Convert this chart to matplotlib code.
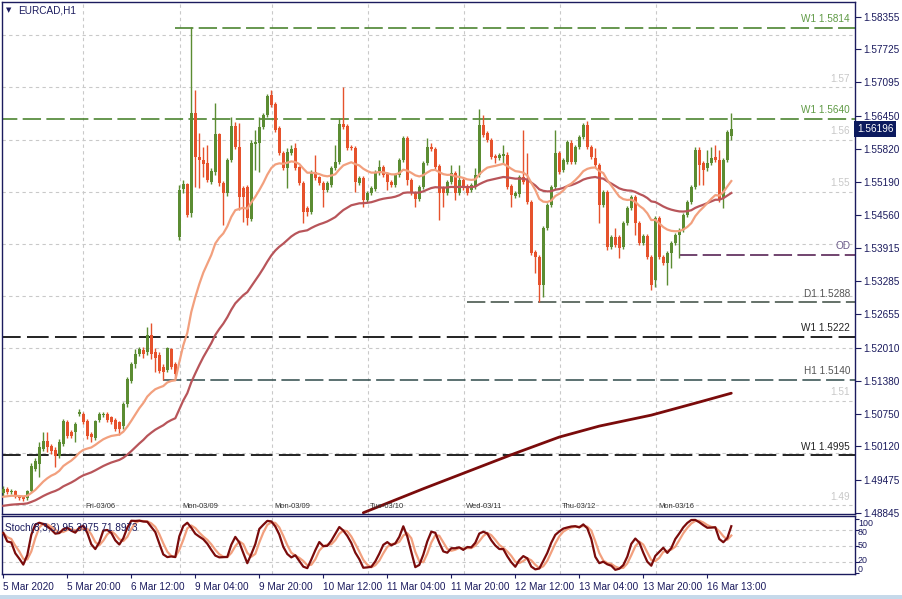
import numpy as np
import pandas as pd
import matplotlib
matplotlib.use("Agg")
import matplotlib.pyplot as plt
from matplotlib.patches import Rectangle
import matplotlib.transforms as mtransforms

plt.rcParams['font.family'] = ['Liberation Sans', 'DejaVu Sans']

# EURCAD H1 candles (bar 0 = first bar on the left)
opens = [
    1.4923, 1.4931, 1.4925, 1.4927, 1.4917, 1.4915, 1.4913, 1.4927, 1.4969, 1.4978,
    1.5008, 1.5022, 1.5013, 1.5006, 1.4993, 1.5017, 1.5059, 1.5040, 1.5040, 1.5074,
    1.5074, 1.5061, 1.5036, 1.5028, 1.5063, 1.5073, 1.5075, 1.5068, 1.5063, 1.5059,
    1.5051, 1.5093, 1.5137, 1.5169, 1.5189, 1.5196, 1.5192, 1.5226, 1.5192, 1.5188,
    1.5165, 1.5158, 1.5198, 1.5169, 1.5414, 1.5505, 1.5515, 1.5460, 1.5650, 1.5566,
    1.5561, 1.5555, 1.5518, 1.5538, 1.5610, 1.5517, 1.5498, 1.5561, 1.5626, 1.5586,
    1.5507, 1.5509, 1.5448, 1.5591, 1.5593, 1.5624, 1.5647, 1.5685, 1.5668, 1.5622,
    1.5574, 1.5545, 1.5574, 1.5584, 1.5547, 1.5517, 1.5469, 1.5461, 1.5538, 1.5528,
    1.5517, 1.5503, 1.5513, 1.5545, 1.5557, 1.5629, 1.5626, 1.5586, 1.5584, 1.5517,
    1.5526, 1.5484, 1.5498, 1.5505, 1.5536, 1.5547, 1.5534, 1.5519, 1.5513, 1.5532,
    1.5561, 1.5603, 1.5522, 1.5497, 1.5486, 1.5509, 1.5555, 1.5586, 1.5582, 1.5549,
    1.5507, 1.5497, 1.5519, 1.5536, 1.5497, 1.5522, 1.5511, 1.5503, 1.5509, 1.5532,
    1.5627, 1.5612, 1.5599, 1.5568, 1.5564, 1.5568, 1.5570, 1.5511, 1.5492, 1.5495,
    1.5528, 1.5522, 1.5480, 1.5385, 1.5374, 1.5322, 1.5431, 1.5475, 1.5509, 1.5574,
    1.5541, 1.5557, 1.5593, 1.5557, 1.5586, 1.5605, 1.5627, 1.5586, 1.5564, 1.5551,
    1.5475, 1.5499, 1.5394, 1.5413, 1.5413, 1.5394, 1.5440, 1.5469, 1.5490, 1.5440,
    1.5402, 1.5415, 1.5375, 1.5330, 1.5450, 1.5375, 1.5364, 1.5383, 1.5402, 1.5417,
    1.5427, 1.5456, 1.5480, 1.5509, 1.5580, 1.5555, 1.5545, 1.5555, 1.5566, 1.5561,
    1.5488, 1.5561, 1.5606,
]
highs = [
    1.4936, 1.4934, 1.4931, 1.4929, 1.4919, 1.4917, 1.4929, 1.4980, 1.4990, 1.5020,
    1.5039, 1.5039, 1.5017, 1.5010, 1.5026, 1.5065, 1.5063, 1.5044, 1.5059, 1.5084,
    1.5078, 1.5065, 1.5040, 1.5063, 1.5078, 1.5078, 1.5078, 1.5070, 1.5067, 1.5061,
    1.5097, 1.5145, 1.5173, 1.5198, 1.5202, 1.5202, 1.5240, 1.5249, 1.5200, 1.5192,
    1.5169, 1.5202, 1.5200, 1.5173, 1.5513, 1.5523, 1.5517, 1.5815, 1.5694, 1.5612,
    1.5586, 1.5589, 1.5545, 1.5669, 1.5612, 1.5521, 1.5564, 1.5643, 1.5633, 1.5631,
    1.5511, 1.5513, 1.5599, 1.5618, 1.5643, 1.5650, 1.5688, 1.5694, 1.5672, 1.5626,
    1.5578, 1.5584, 1.5589, 1.5593, 1.5549, 1.5521, 1.5473, 1.5542, 1.5570, 1.5530,
    1.5521, 1.5521, 1.5549, 1.5589, 1.5641, 1.5700, 1.5630, 1.5590, 1.5588, 1.5530,
    1.5530, 1.5502, 1.5511, 1.5542, 1.5561, 1.5551, 1.5538, 1.5522, 1.5536, 1.5565,
    1.5606, 1.5607, 1.5526, 1.5501, 1.5513, 1.5559, 1.5603, 1.5593, 1.5586, 1.5553,
    1.5511, 1.5523, 1.5551, 1.5540, 1.5551, 1.5526, 1.5515, 1.5517, 1.5545, 1.5658,
    1.5647, 1.5616, 1.5603, 1.5572, 1.5574, 1.5589, 1.5576, 1.5515, 1.5501, 1.5532,
    1.5618, 1.5574, 1.5484, 1.5389, 1.5378, 1.5435, 1.5479, 1.5513, 1.5618, 1.5578,
    1.5565, 1.5599, 1.5599, 1.5590, 1.5609, 1.5631, 1.5635, 1.5590, 1.5584, 1.5555,
    1.5503, 1.5503, 1.5417, 1.5431, 1.5417, 1.5444, 1.5473, 1.5494, 1.5494, 1.5444,
    1.5419, 1.5419, 1.5379, 1.5454, 1.5454, 1.5379, 1.5387, 1.5406, 1.5421, 1.5431,
    1.5460, 1.5484, 1.5513, 1.5586, 1.5586, 1.5559, 1.5580, 1.5586, 1.5589, 1.5580,
    1.5565, 1.5618, 1.5650,
]
lows = [
    1.4917, 1.4921, 1.4921, 1.4913, 1.4909, 1.4907, 1.4909, 1.4925, 1.4965, 1.4954,
    1.5004, 1.5002, 1.4998, 1.4973, 1.4989, 1.5013, 1.5029, 1.5028, 1.5020, 1.5070,
    1.5055, 1.5027, 1.5020, 1.5025, 1.5059, 1.5069, 1.5059, 1.5055, 1.5042, 1.5034,
    1.5046, 1.5088, 1.5133, 1.5163, 1.5185, 1.5182, 1.5188, 1.5180, 1.5154, 1.5152,
    1.5140, 1.5154, 1.5161, 1.5144, 1.5408, 1.5498, 1.5452, 1.5452, 1.5509, 1.5507,
    1.5528, 1.5518, 1.5515, 1.5532, 1.5511, 1.5437, 1.5492, 1.5557, 1.5582, 1.5465,
    1.5442, 1.5437, 1.5444, 1.5542, 1.5538, 1.5620, 1.5643, 1.5662, 1.5614, 1.5570,
    1.5542, 1.5507, 1.5570, 1.5542, 1.5513, 1.5440, 1.5454, 1.5457, 1.5522, 1.5513,
    1.5471, 1.5499, 1.5509, 1.5542, 1.5553, 1.5620, 1.5580, 1.5580, 1.5500, 1.5513,
    1.5471, 1.5480, 1.5494, 1.5501, 1.5532, 1.5528, 1.5503, 1.5509, 1.5509, 1.5528,
    1.5557, 1.5513, 1.5494, 1.5471, 1.5482, 1.5505, 1.5551, 1.5578, 1.5543, 1.5446,
    1.5471, 1.5493, 1.5515, 1.5484, 1.5493, 1.5503, 1.5493, 1.5499, 1.5505, 1.5528,
    1.5604, 1.5595, 1.5562, 1.5555, 1.5560, 1.5555, 1.5505, 1.5471, 1.5488, 1.5490,
    1.5515, 1.5476, 1.5379, 1.5345, 1.5288, 1.5299, 1.5427, 1.5471, 1.5505, 1.5534,
    1.5537, 1.5553, 1.5553, 1.5553, 1.5582, 1.5601, 1.5582, 1.5562, 1.5547, 1.5440,
    1.5471, 1.5388, 1.5390, 1.5394, 1.5373, 1.5390, 1.5436, 1.5465, 1.5417, 1.5398,
    1.5398, 1.5371, 1.5312, 1.5318, 1.5371, 1.5360, 1.5322, 1.5354, 1.5398, 1.5373,
    1.5423, 1.5452, 1.5476, 1.5505, 1.5513, 1.5513, 1.5540, 1.5551, 1.5557, 1.5480,
    1.5469, 1.5557, 1.5600,
]
closes = [
    1.4931, 1.4925, 1.4927, 1.4917, 1.4913, 1.4911, 1.4927, 1.4975, 1.4984, 1.5011,
    1.5022, 1.5011, 1.5004, 1.4993, 1.5020, 1.5061, 1.5032, 1.5032, 1.5055, 1.5078,
    1.5059, 1.5032, 1.5030, 1.5061, 1.5074, 1.5075, 1.5063, 1.5059, 1.5046, 1.5046,
    1.5093, 1.5141, 1.5169, 1.5189, 1.5198, 1.5189, 1.5226, 1.5189, 1.5182, 1.5156,
    1.5154, 1.5200, 1.5165, 1.5150, 1.5503, 1.5515, 1.5456, 1.5650, 1.5566, 1.5561,
    1.5553, 1.5522, 1.5540, 1.5610, 1.5517, 1.5498, 1.5561, 1.5626, 1.5586, 1.5490,
    1.5490, 1.5450, 1.5593, 1.5595, 1.5624, 1.5647, 1.5683, 1.5666, 1.5618, 1.5574,
    1.5545, 1.5576, 1.5582, 1.5545, 1.5517, 1.5461, 1.5461, 1.5538, 1.5526, 1.5517,
    1.5503, 1.5517, 1.5545, 1.5557, 1.5629, 1.5624, 1.5584, 1.5584, 1.5519, 1.5526,
    1.5484, 1.5498, 1.5507, 1.5538, 1.5547, 1.5532, 1.5519, 1.5513, 1.5532, 1.5561,
    1.5603, 1.5522, 1.5497, 1.5486, 1.5509, 1.5555, 1.5586, 1.5582, 1.5547, 1.5497,
    1.5497, 1.5519, 1.5536, 1.5497, 1.5522, 1.5507, 1.5497, 1.5513, 1.5532, 1.5627,
    1.5608, 1.5599, 1.5566, 1.5564, 1.5570, 1.5572, 1.5509, 1.5494, 1.5497, 1.5528,
    1.5519, 1.5480, 1.5383, 1.5374, 1.5322, 1.5431, 1.5475, 1.5509, 1.5574, 1.5538,
    1.5561, 1.5595, 1.5557, 1.5586, 1.5605, 1.5627, 1.5586, 1.5566, 1.5551, 1.5475,
    1.5499, 1.5394, 1.5413, 1.5398, 1.5392, 1.5440, 1.5469, 1.5490, 1.5440, 1.5402,
    1.5415, 1.5375, 1.5322, 1.5450, 1.5375, 1.5364, 1.5383, 1.5402, 1.5417, 1.5427,
    1.5456, 1.5480, 1.5509, 1.5580, 1.5551, 1.5542, 1.5555, 1.5564, 1.5561, 1.5484,
    1.5561, 1.5614, 1.56196,
]

# moving average starting values (left edge of chart) and periods
fast_span, fast_seed = 20, 1.4914
slow_span, slow_seed = 50, 1.4897

# long moving average, read at a few bars
long_ma_bars = [90, 105, 128, 139, 149, 162, 174, 182]
long_ma_vals = [1.4885, 1.4931, 1.4999, 1.5030, 1.5051, 1.5072, 1.5097, 1.5114]

# price levels
level_vals = [1.5814, 1.5640, 1.5379, 1.5288, 1.5222, 1.5140, 1.4995]
level_names = ["W1 1.5814", "W1 1.5640", "OD", "D1 1.5288", "W1 1.5222", "H1 1.5140", "W1 1.4995"]
level_from = [43, -1, 169, 116, -1, 40, -1]
level_colors = ["#3d7a1f", "#3d7a1f", "#4a1248", "#3a4a40", "#111111", "#2f4a4a", "#111111"]
level_text_colors = ["#5f9a45", "#5f9a45", "#6a5a8a", "#555555", "#222222", "#555555", "#222222"]

price_ticks = [1.58355, 1.57725, 1.57095, 1.56450, 1.55820, 1.55190, 1.54560, 1.53915,
               1.53285, 1.52655, 1.52010, 1.51380, 1.50750, 1.50120, 1.49475, 1.48845]
grid_prices = [1.49, 1.50, 1.51, 1.52, 1.53, 1.54, 1.55, 1.56, 1.57, 1.58]
grid_labels = [1.57, 1.56, 1.55, 1.51, 1.49]

day_bars = [20, 44.2, 67.2, 91.2, 115.2, 139.2, 163.2]
day_labels = ["Fri-03/06", "Mon-03/09", "Mon-03/09", "Tue-03/10", "Wed-03/11", "Thu-03/12", "Mon-03/16"]

time_labels = ["5 Mar 2020", "5 Mar 20:00", "6 Mar 12:00", "9 Mar 04:00", "9 Mar 20:00",
               "10 Mar 12:00", "11 Mar 04:00", "11 Mar 20:00", "12 Mar 12:00",
               "13 Mar 04:00", "13 Mar 20:00", "16 Mar 13:00"]

last_price = 1.56196

# ---------------------------------------------------------------
navy = "#1b1b5e"
grid_c = "#c9c9c9"
up_c = "#5b8c32"
dn_c = "#e6522c"
fs = 7.2

n = len(closes)
x = np.arange(n)


def ema(values, span, seed):
    a = 2.0 / (span + 1)
    out, prev = [], seed
    for v in values:
        prev = prev + a * (v - prev)
        out.append(prev)
    return out


fast = ema(closes, fast_span, fast_seed)
slow = ema(closes, slow_span, slow_seed)

# Stochastic 8,3,3
df = pd.DataFrame({"h": highs, "l": lows, "c": closes})
hh = df["h"].rolling(8, min_periods=1).max()
ll = df["l"].rolling(8, min_periods=1).min()
k_line = 100 * (df["c"] - ll).rolling(3, min_periods=1).sum() / (hh - ll).rolling(3, min_periods=1).sum()
d_line = k_line.rolling(3, min_periods=1).mean()

fig = plt.figure(figsize=(9.02, 5.99), dpi=100)
W, H = 902, 599
ax = fig.add_axes([2 / W, 1 - 514 / H, 853 / W, 512 / H])
ax2 = fig.add_axes([2 / W, 1 - 574 / H, 853 / W, 58 / H])

xl = ((2 - 3.3) / 4, (855 - 3.3) / 4)
for a in (ax, ax2):
    a.set_xlim(*xl)
    for s in a.spines.values():
        s.set_color(navy)
        s.set_linewidth(1)
ax.set_ylim(1.48826, 1.58634)
ax2.set_ylim(-2.2, 105)

# grid
for g in grid_prices:
    ax.axhline(g, color=grid_c, lw=0.8, ls=(0, (3, 3)), zorder=0)
for b in day_bars:
    ax.axvline(b, color=grid_c, lw=0.8, ls=(0, (3, 3)), zorder=0)
    ax2.axvline(b, color=grid_c, lw=0.8, ls=(0, (3, 3)), zorder=0)
for g in [20, 50, 80]:
    ax2.axhline(g, color=grid_c, lw=0.8, ls=(0, (3, 3)), zorder=0)

# in-chart grey price labels
for g in grid_labels:
    ax.annotate(f"{g:.2f}", xy=(211.7, g), xytext=(0, 6), textcoords="offset points",
                ha="right", va="center", fontsize=fs, color="#c8c8c8")

# levels
for v, name, start, c, tc in zip(level_vals, level_names, level_from, level_colors, level_text_colors):
    lw = 1.3 if c == "#111111" else 1.1
    ax.plot([start, xl[1]], [v, v], color=c, lw=lw, ls=(0, (12, 3.5)), zorder=1)
    ax.annotate(name, xy=(211.7, v), xytext=(0, 6.3), textcoords="offset points",
                ha="right", va="center", fontsize=fs, color=tc)

# long MA
ax.plot(long_ma_bars, long_ma_vals, color="#7a0b0b", lw=2.0, zorder=2, solid_capstyle="round")

# candles
cols = [up_c if c >= o else dn_c for o, c in zip(opens, closes)]
ax.vlines(x, lows, highs, colors=cols, lw=1.0, zorder=3)
bottoms = np.minimum(opens, closes)
heights = np.maximum(np.abs(np.array(closes) - np.array(opens)), 0.00019)
ax.bar(x, heights, bottom=bottoms, width=0.75, color=cols, linewidth=0, zorder=4)

# moving averages
ax.plot(x, slow, color="#b8555a", lw=1.6, zorder=5)
ax.plot(x, fast, color="#f2a07e", lw=1.6, zorder=5)

# price axis on the right
ax.yaxis.tick_right()
ax.set_yticks(price_ticks)
ax.set_yticklabels([f"{t:.5f}" for t in price_ticks])
ax.tick_params(axis="y", length=4, width=0.8, colors=navy, labelsize=fs, pad=2)
ax.tick_params(axis="x", length=0, labelbottom=False)
ax.annotate(f"{last_price:.5f}", xy=(1, last_price), xycoords=("axes fraction", "data"),
            xytext=(1.5, 0), textcoords="offset points", ha="left", va="center",
            fontsize=fs, color="white",
            bbox=dict(boxstyle="square,pad=0.28", fc="#0c1a5e", ec="none"), zorder=10,
            annotation_clip=False)

# day labels along bottom of price panel
blend = mtransforms.blended_transform_factory(ax.transData, ax.transAxes)
for b, lab in zip(day_bars, day_labels):
    ax.text(b + 0.5, 0.008, lab, transform=blend,
            fontsize=5.4, color="#333333", ha="left", va="bottom")

# title
fig.text(18 / W, 1 - 10.5 / H, "EURCAD,H1", fontsize=fs, color=navy, va="center", ha="left")
fig.text(8.5 / W, 1 - 10.5 / H, "\u25bc", fontsize=5, color=navy, va="center", ha="center",
         family="DejaVu Sans")

# stochastic panel
ax2.plot(x, d_line, color="#f2a07e", lw=1.6, zorder=3)
ax2.plot(x, k_line, color="#7a0b0b", lw=1.6, zorder=4)
ax2.text(0.004, 0.80, "Stoch(8,3,3) 95.3975 71.8973", transform=ax2.transAxes,
         fontsize=fs, color=navy, ha="left", va="center", zorder=6)
ax2.yaxis.tick_right()
ax2.set_yticks([0, 20, 50, 80, 100])
ax2.set_yticklabels([])
ax2.tick_params(axis="y", length=3, width=0.8, colors=navy)
for val, ypix in zip(["100", "80", "50", "20", "0"], [523.5, 532.5, 546, 560.5, 569.5]):
    fig.text(858 / W, 1 - ypix / H, val, fontsize=6.4, color=navy, ha="left", va="center")

ax2.set_xticks([16 * i for i in range(len(time_labels))])
ax2.set_xticklabels(time_labels)
plt.setp(ax2.get_xticklabels(), ha="left")
ax2.tick_params(axis="x", length=3, width=0.8, colors=navy, labelsize=fs, pad=3)

# light strip at the very bottom
fig.patches.append(Rectangle((0, 0), 1, 4 / H, transform=fig.transFigure, fc="#c6d9ea", ec="none"))

fig.savefig("out.png", dpi=100)
